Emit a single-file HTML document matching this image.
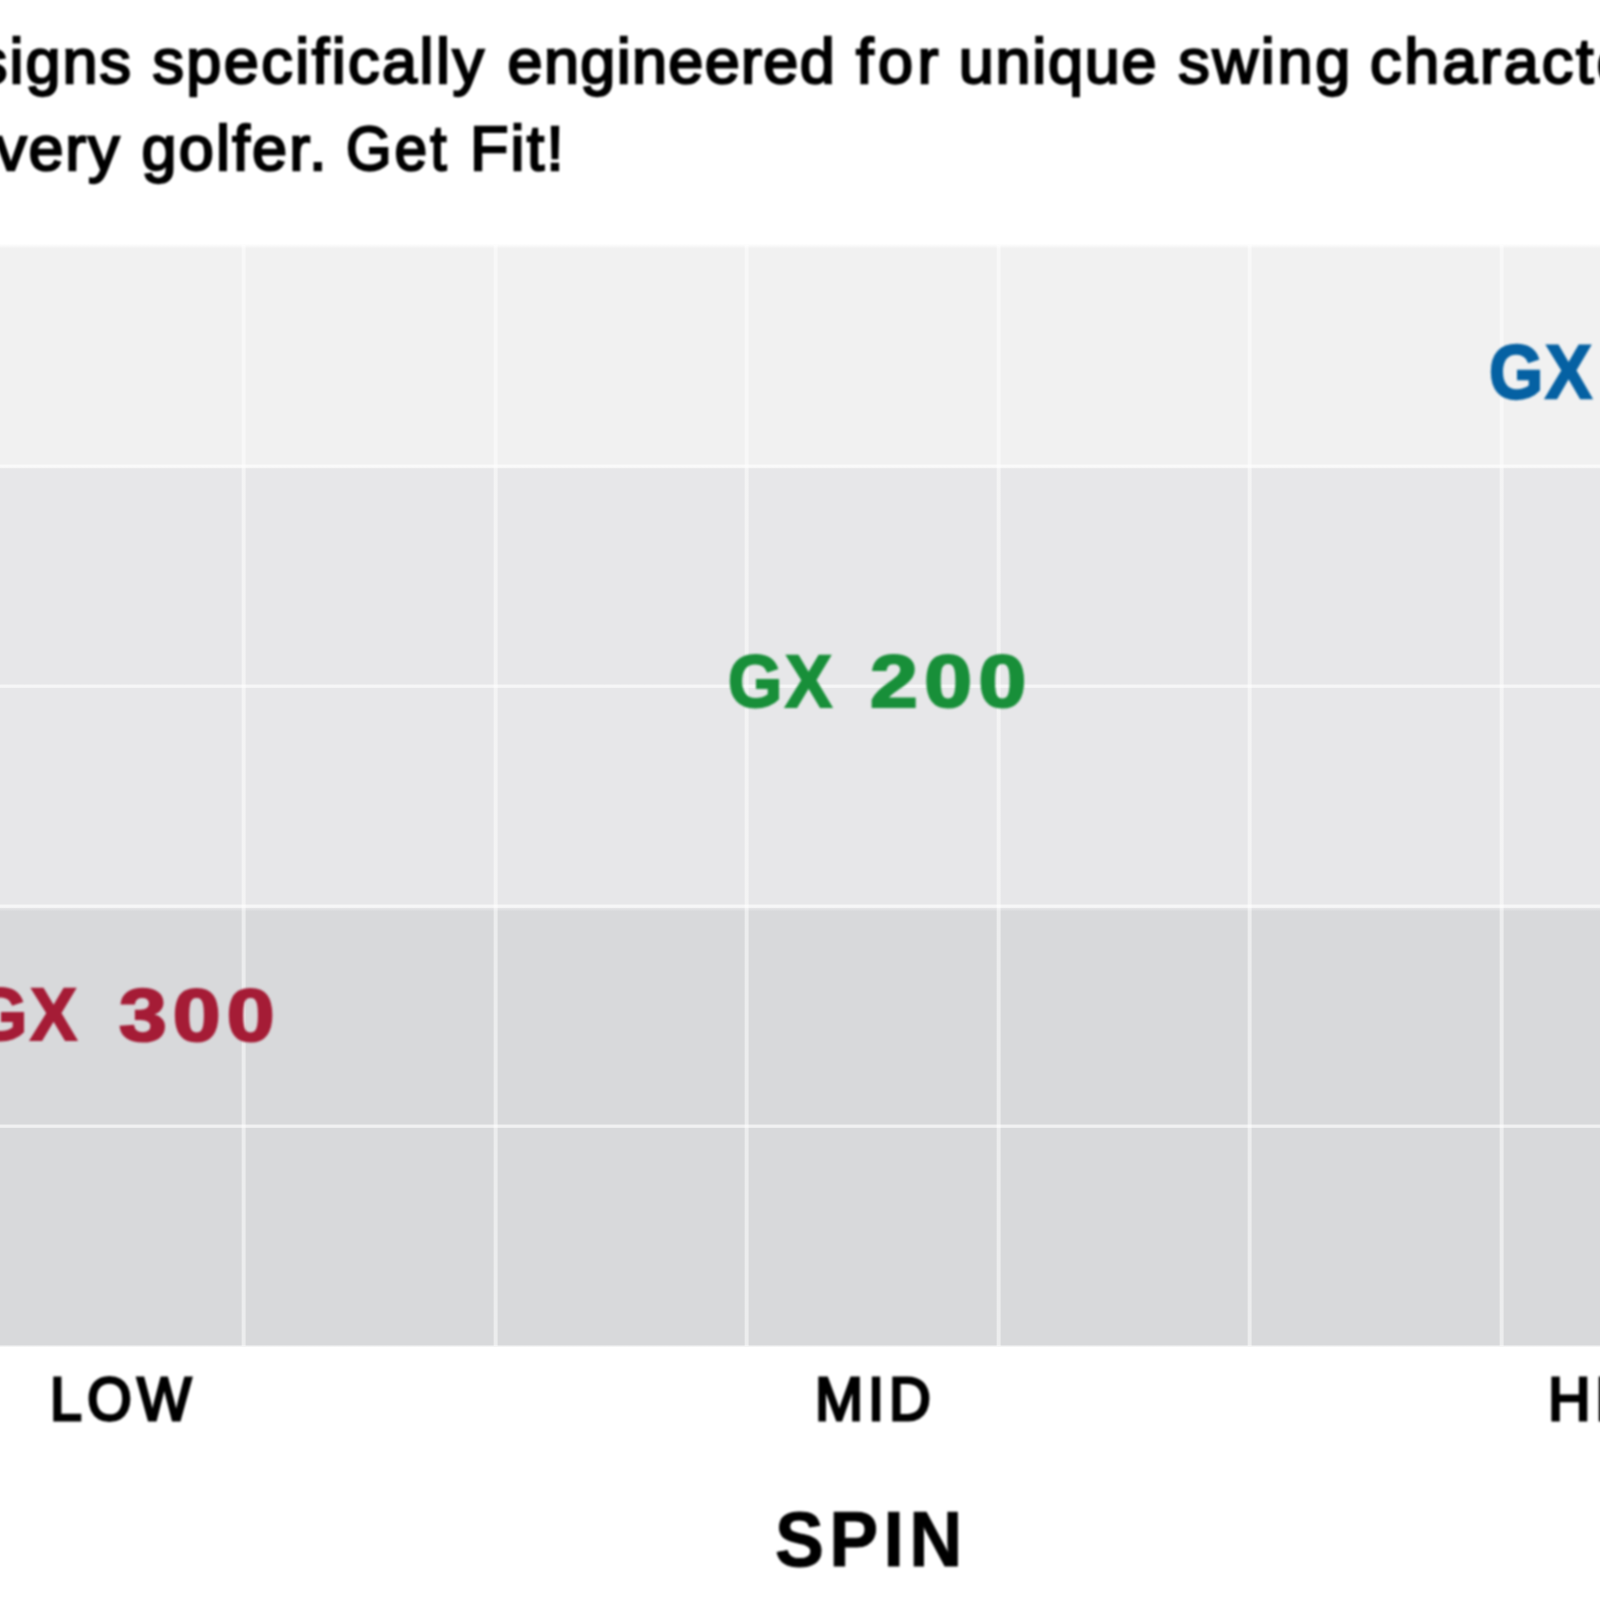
<!DOCTYPE html>
<html lang="en"><head><meta charset="utf-8"><title>GX spin chart</title>
<style>
html,body{margin:0;padding:0;background:#fff;}
body{width:1600px;height:1600px;overflow:hidden;position:relative;font-family:"Liberation Sans",sans-serif;color:#000;}
.w{position:absolute;white-space:nowrap;line-height:1;transform-origin:0 0;}
.b{filter:blur(.9px)}
.p{font-size:63px;-webkit-text-stroke:2.3px #000;}
.ax{font-size:61.5px;-webkit-text-stroke:3.0px #000;}
.lab{font-weight:700;font-size:73.5px;-webkit-text-stroke-width:2.2px;}
.sp{font-weight:700;font-size:78px;-webkit-text-stroke:1.0px #000;}
.vl{position:absolute;top:245px;height:1101px;width:5.4px;background:linear-gradient(90deg,rgba(255,255,255,0),rgba(255,255,255,.52) 1.5px,rgba(255,255,255,.52) 3.9px,rgba(255,255,255,0) 5.4px);}
.hl{position:absolute;left:0;width:1600px;height:4.4px;background:linear-gradient(180deg,rgba(255,255,255,0),rgba(255,255,255,.64) 1.1px,rgba(255,255,255,.64) 3.3px,rgba(255,255,255,0) 4.4px);}
.chart{position:absolute;left:0;top:243px;width:1600px;height:1106px;background:linear-gradient(180deg,#fff 0.8px,#f1f1f1 5.6px,#f1f1f1 223.5px,#e7e7e9 226.5px,#e7e7e9 664.5px,#d8d9db 668.5px,#d8d9db 1101.5px,#fff 1104.3px);}
</style></head><body>
<p class="intro" style="margin:0">
<span class="w b p" id="w1" style="left:-24.1px;top:29.7px;letter-spacing:2.03px;">signs</span>
<span class="w b p" id="w2" style="left:152.4px;top:29.7px;letter-spacing:2.45px;">specifically</span>
<span class="w b p" id="w3" style="left:507.6px;top:29.7px;letter-spacing:1.32px;">engineered</span>
<span class="w b p" id="w4" style="left:856.0px;top:29.7px;letter-spacing:4.45px;">for</span>
<span class="w b p" id="w5" style="left:958.8px;top:29.7px;letter-spacing:1.70px;">unique</span>
<span class="w b p" id="w6" style="left:1178.3px;top:29.7px;letter-spacing:2.70px;">swing</span>
<span class="w b p" id="w7" style="left:1370.0px;top:29.7px;letter-spacing:2.83px;">characteristics</span>
<span class="w b p" id="w8" style="left:-4.8px;top:117.4px;letter-spacing:1.80px;">very</span>
<span class="w b p" id="w9" style="left:141.4px;top:117.4px;letter-spacing:2.25px;">golfer.</span>
<span class="w b p" id="w10" style="left:345.9px;top:117.4px;letter-spacing:3.28px;transform:scale(0.930,1.000);">Get</span>
<span class="w b p" id="w11" style="left:470.0px;top:117.4px;letter-spacing:2.10px;">Fit!</span>
</p>
<div class="chart"></div>
<div class="grid">
<div class="vl" style="left:241.3px"></div><div class="vl" style="left:492.8px"></div><div class="vl" style="left:744.4px"></div><div class="vl" style="left:995.8px"></div><div class="vl" style="left:1247.2px"></div><div class="vl" style="left:1498.6px"></div>
<div class="hl" style="top:464.1px"></div><div class="hl" style="top:684.3px"></div><div class="hl" style="top:904.0px"></div><div class="hl" style="top:1124.4px"></div>
</div>
<div class="labels">
<span class="w b lab" id="g1" style="left:1489.0px;top:334.0px;letter-spacing:2.11px;transform:scale(0.950,1.040);color:#0561a3;-webkit-text-stroke-color:#0561a3">GX</span>
<span class="w b lab" id="g2a" style="left:728.2px;top:644.5px;letter-spacing:3.16px;transform:scale(0.950,1.000);color:#188f39;-webkit-text-stroke-color:#188f39">GX</span>
<span class="w b lab" id="g2b" style="left:869.5px;top:644.5px;letter-spacing:5.51px;transform:scale(1.170,1.000);color:#188f39;-webkit-text-stroke-color:#188f39">200</span>
<span class="w b lab" id="g3a" style="left:-26.6px;top:978.3px;letter-spacing:3.16px;transform:scale(0.950,1.000);color:#a51c36;-webkit-text-stroke-color:#a51c36">GX</span>
<span class="w b lab" id="g3b" style="left:119.0px;top:978.6px;letter-spacing:5.13px;transform:scale(1.170,1.000);color:#a51c36;-webkit-text-stroke-color:#a51c36">300</span>
</div>
<div class="xaxis">
<span class="w b ax" id="a1" style="left:49.5px;top:1367.8px;letter-spacing:5.91px;transform:scale(0.930,1.000);">LOW</span>
<span class="w b ax" id="a2" style="left:815.1px;top:1367.6px;letter-spacing:5.16px;transform:scale(0.940,1.000);">MID</span>
<span class="w b ax" id="a3" style="left:1548.1px;top:1367.9px;letter-spacing:4.20px;transform:scale(0.960,1.000);">HIGH</span>
</div>
<div class="xtitle">
<span class="w b sp" id="sp" style="left:775.3px;top:1500.2px;letter-spacing:5.74px;transform:scale(0.940,1.000);">SPIN</span>
</div>
</body></html>
